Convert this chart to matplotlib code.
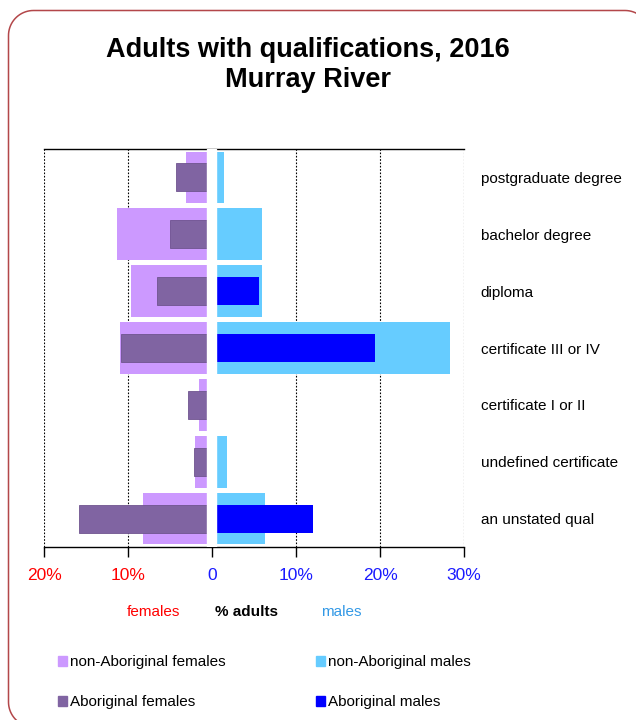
import numpy as np
import matplotlib.pyplot as plt
from matplotlib.patches import Rectangle, PathPatch
from matplotlib.path import Path
from matplotlib.transforms import IdentityTransform

plt.rcParams['font.family'] = ['Liberation Sans', 'DejaVu Sans']

categories = ['postgraduate degree', 'bachelor degree', 'diploma',
              'certificate III or IV', 'certificate I or II',
              'undefined certificate', 'an unstated qual']

# percentages of adults
nonab_females = [3.1, 11.3, 9.7, 10.9, 1.6, 2.0, 8.2]
ab_females = [4.3, 5.0, 6.5, 10.8, 2.9, 2.1, 15.8]
nonab_males = [1.4, 6.0, 6.0, 28.3, 0.6, 1.8, 6.3]
ab_males = [0.0, 0.0, 5.6, 19.4, 0.0, 0.0, 12.0]

tick_vals = [-20, -10, 0, 10, 20, 30]
tick_text = ['20%', '10%', '0', '10%', '20%', '30%']
tick_cols = ['#ff0000', '#ff0000', '#1a1aff', '#1a1aff', '#1a1aff', '#1a1aff']

c_nf = '#cc99ff'
c_af = '#8064a2'
c_nm = '#66ccff'
c_am = '#0000ff'

W, H = 636, 720
fig = plt.figure(figsize=(W / 100, H / 100), dpi=100)
ax = fig.add_axes([44 / W, 1 - 547 / H, 420 / W, 398 / H])

y = list(range(len(categories)))
ax.barh(y, [-v for v in nonab_females], height=0.91, color=c_nf, zorder=2)
ax.barh(y, [-v for v in ab_females], height=0.49, color=c_af, edgecolor='#6f548f', linewidth=0.6, zorder=2)
ax.barh(y, nonab_males, height=0.91, color=c_nm, zorder=2)
ax.barh(y, ab_males, height=0.49, color=c_am, zorder=2)

# white strip separating females and males
ax.axvspan(-0.55, 0.52, color='white', zorder=3)

ax.set_xlim(-20, 30)
ax.set_ylim(len(categories) - 0.5, -0.5)
ax.set_axisbelow(True)
ax.grid(axis='x', linestyle=(0, (1.5, 1.5)), color='black', linewidth=0.8)

for s in ['left', 'right']:
    ax.spines[s].set_visible(False)
ax.spines['top'].set_linewidth(1.0)
ax.spines['bottom'].set_linewidth(1.0)

ax.set_xticks(tick_vals)
ax.set_xticklabels(tick_text, fontsize=12.5)
for lab, col in zip(ax.get_xticklabels(), tick_cols):
    lab.set_color(col)
ax.tick_params(axis='x', length=7, width=1, pad=8)

ax.set_yticks(y)
ax.set_yticklabels(categories, fontsize=11)
ax.tick_params(axis='y', left=False, right=False, labelleft=False, labelright=True, length=0, pad=12)

fig.text(308 / W, 1 - 57 / H, 'Adults with qualifications, 2016',
         ha='center', va='baseline', fontsize=19.5, fontweight='bold')
fig.text(308 / W, 1 - 87 / H, 'Murray River',
         ha='center', va='baseline', fontsize=19.5, fontweight='bold')

fig.text(153 / W, 1 - 612 / H, 'females', ha='center', va='center', fontsize=11, color='#ff0000')
fig.text(246 / W, 1 - 612 / H, '% adults', ha='center', va='center', fontsize=11, fontweight='bold')
fig.text(341 / W, 1 - 612 / H, 'males', ha='center', va='center', fontsize=11, color='#3399e6')

legend_items = [('non-Aboriginal females', c_nf, 58, 661),
                ('non-Aboriginal males', c_nm, 316, 661),
                ('Aboriginal females', c_af, 58, 701),
                ('Aboriginal males', c_am, 316, 701)]
for text, col, lx, ly in legend_items:
    fig.add_artist(Rectangle((lx / W, 1 - (ly + 5) / H), 9 / W, 10 / H,
                             transform=fig.transFigure, color=col))
    fig.text((lx + 12) / W, 1 - (ly + 1) / H, text, ha='left', va='center', fontsize=11)

# rounded frame around the chart, in pixels (y measured from the top)
def rounded_frame(x0, y0, x1, y1, r):
    pts = []
    for cx, cy, a0 in [(x0 + r, y0 + r, 180), (x1 - r, y0 + r, 270),
                       (x1 - r, y1 - r, 0), (x0 + r, y1 - r, 90)]:
        a = np.radians(np.linspace(a0, a0 + 90, 20))
        pts += [(cx + r * np.cos(t), H - (cy + r * np.sin(t))) for t in a]
    pts.append(pts[0])
    return Path(pts)

fig.add_artist(PathPatch(rounded_frame(8.5, 10.5, 650, 727, 25),
                         transform=IdentityTransform(), facecolor='none',
                         edgecolor='#b3474a', linewidth=1.1))

fig.savefig('out.png', dpi=100)
